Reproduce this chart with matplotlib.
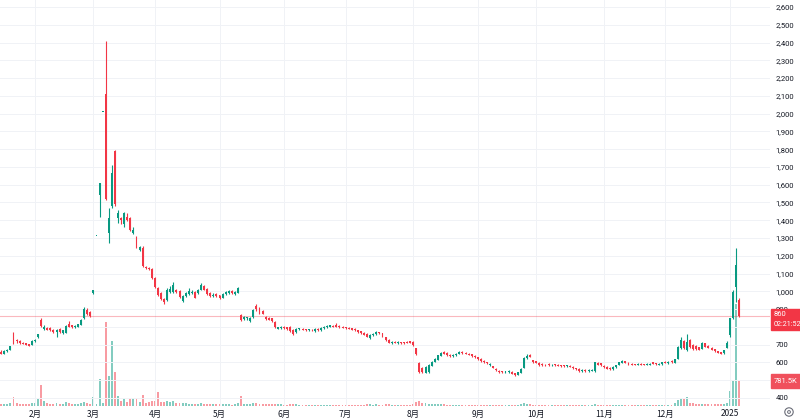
import numpy as np
import pandas as pd
import matplotlib
matplotlib.use('Agg')
import matplotlib.pyplot as plt
from matplotlib.patches import Rectangle, Circle
from matplotlib.transforms import IdentityTransform

# ---------------- data (daily OHLC, volume in thousands) ----------------
opens = [
660,650,662,670,732,728,720,712,708,702,
700,718,745,838,788,795,792,785,770,790,
766,768,818,808,800,800,812,850,893,885,
990,1310,1540,2010,2110,1330,1480,1790,1415,1410,
1378,1420,1415,1330,1300,1230,1245,1135,1130,1125,
1075,1020,990,955,950,995,998,1010,1000,945,
975,985,990,995,990,1008,1030,1012,990,975,
985,978,965,985,990,1000,985,992,867,845,
848,835,855,918,905,890,858,852,848,830,
790,792,800,798,800,785,772,786,790,786,
783,785,776,790,780,793,798,802,806,812,
804,800,797,795,792,788,780,775,768,760,
740,752,760,770,765,742,726,708,716,708,
714,712,716,718,715,680,597,570,542,545,
582,605,615,638,658,652,642,636,642,650,
658,655,650,645,636,628,622,610,600,585,
578,565,553,550,545,546,546,540,530,541,
569,625,642,612,607,597,592,588,590,583,
590,586,585,583,578,580,575,568,565,550,
558,550,552,550,595,595,582,575,570,563,
572,585,598,606,598,592,590,586,592,590,
586,588,600,595,588,590,604,595,608,597,
622,681,721,670,726,700,692,685,676,709,
695,684,675,662,657,652,682,755,850,1024,
951]
highs = [
668,668,675,695,771,732,724,716,712,706,
724,732,762,852,810,802,798,790,788,795,
784,808,833,812,810,818,842,910,905,890,
1010,1310,1610,2010,2410,1470,1710,1795,1460,1420,
1445,1440,1420,1360,1310,1255,1255,1142,1135,1130,
1080,1025,995,960,1020,1030,1055,1015,1005,980,
995,1020,1005,1000,1015,1045,1035,1018,995,988,
990,982,990,1000,1005,1005,1002,1025,875,860,
858,855,900,930,910,895,862,856,852,835,
802,805,806,802,805,788,795,795,794,790,
790,789,794,794,798,804,808,812,810,822,
808,804,800,798,796,792,784,778,772,763,
758,766,778,774,768,745,730,720,719,718,
717,715,720,722,718,684,602,575,580,590,
606,626,644,656,665,656,646,648,654,662,
662,658,654,648,640,632,626,614,604,594,
582,568,557,553,554,556,550,543,548,566,
628,645,648,615,610,600,595,592,594,592,
593,589,588,586,586,583,578,571,568,561,
561,561,561,604,602,598,586,578,573,578,
588,603,612,609,601,595,593,594,595,593,
596,596,604,598,596,602,608,606,612,622,
692,743,728,760,730,704,696,688,714,712,
698,687,678,665,660,671,722,852,1005,1244,
962]
lows = [
645,648,660,668,705,712,706,702,698,690,
698,715,740,800,780,782,776,768,745,768,
762,765,798,796,796,798,808,845,868,855,
985,1310,1420,2010,1515,1270,1470,1480,1385,1380,
1362,1395,1340,1320,1245,1225,1135,1125,1120,1070,
1020,975,950,930,945,990,990,990,965,938,
970,980,985,960,985,1005,1005,980,970,970,
968,955,960,980,985,985,980,988,835,840,
840,825,850,892,875,870,838,836,830,792,
786,790,788,784,770,755,768,782,780,778,
778,776,772,778,776,790,795,800,797,800,
795,792,790,787,782,777,768,762,752,742,
732,750,757,762,742,722,708,705,707,705,
705,705,709,708,695,640,542,538,538,542,
578,600,612,634,646,636,630,632,638,647,
648,646,640,632,624,614,604,598,590,582,
566,552,543,542,542,543,533,526,527,538,
566,620,628,596,594,582,580,580,582,580,
580,579,577,575,575,572,565,559,548,547,
547,547,549,546,583,582,568,562,560,560,
570,583,596,595,586,584,584,584,585,584,
584,586,590,587,586,588,594,593,598,595,
618,676,676,662,684,672,672,668,673,685,
679,669,660,652,646,649,679,745,845,940,
855]
closes = [
650,665,672,690,710,718,710,705,700,695,
720,728,758,805,800,785,780,772,783,772,
780,805,800,800,805,815,838,898,873,860,
1010,1310,1610,2010,1520,1410,1665,1490,1440,1400,
1440,1400,1345,1345,1250,1248,1140,1130,1125,1075,
1025,980,955,940,1005,1012,1035,995,970,975,
990,1000,998,965,1010,1035,1010,985,975,982,
972,962,985,995,1000,990,998,1020,840,857,
855,850,895,898,880,875,842,840,835,797,
798,800,792,788,775,760,788,790,785,782,
786,780,790,782,795,800,805,808,800,802,
798,795,793,790,785,780,772,765,755,745,
755,762,772,765,745,726,712,716,710,714,
708,708,712,712,698,645,548,545,575,585,
602,622,640,652,650,640,635,643,650,658,
652,650,643,636,628,618,608,602,595,590,
570,555,547,546,550,552,537,530,545,563,
625,637,632,600,598,585,583,583,585,588,
583,582,580,578,582,575,568,562,552,558,
550,558,558,600,586,585,572,565,563,575,
585,600,606,598,590,588,587,591,588,587,
593,593,593,590,592,600,597,603,600,618,
687,726,681,717,687,675,676,672,711,688,
682,672,663,655,650,668,711,850,998,1148,
860]
volumes_k = [
70,60,50,90,270,80,60,50,60,70,
90,100,210,630,150,90,70,60,80,60,
50,110,90,50,50,60,90,120,90,70,
270,60,810,80,2520,900,1950,1020,300,160,
210,130,210,230,250,130,330,100,110,150,
140,420,120,110,150,130,160,90,90,100,
80,70,60,70,60,90,70,60,60,50,
50,50,60,50,50,40,60,80,300,70,
60,70,90,80,60,50,60,50,50,70,
50,50,40,40,60,60,50,40,40,30,
30,30,40,30,40,40,40,40,30,40,
30,30,30,30,30,30,40,40,40,50,
50,40,50,40,40,50,50,40,30,30,
30,30,30,40,60,110,140,90,80,70,
60,60,60,50,50,40,40,40,40,40,
30,30,30,30,30,40,40,30,30,30,
30,30,30,30,30,30,40,40,40,50,
90,70,50,40,40,30,30,30,30,30,
30,30,30,30,30,30,30,30,40,30,
30,30,30,70,40,40,40,30,30,30,
30,40,40,30,30,30,30,30,30,30,
30,30,30,30,30,40,40,40,40,80,
190,230,200,280,100,80,60,60,70,60,
50,50,50,50,50,60,100,460,760,3060,
781.5]

jp_holidays = ['2024-02-12', '2024-02-23', '2024-03-20', '2024-04-29', '2024-05-03',
               '2024-05-06', '2024-07-15', '2024-08-12', '2024-09-16', '2024-09-23',
               '2024-10-14', '2024-11-04', '2024-12-31', '2025-01-01', '2025-01-02',
               '2025-01-03']
month_labels = ['2月', '3月', '4月', '5月', '6月', '7月', '8月', '9月', '10月', '11月', '12月', '2025']
price_ticks = list(range(400, 2700, 100))
hidden_tick_labels = [500, 800]   # covered by the last-value badges
last_price_text = '860'
countdown_text = '02:21:52'
last_volume_text = '781.5K'

# ---------------- build ----------------
dates = pd.bdate_range('2024-01-17', '2025-01-09', freq='C', holidays=jp_holidays)
n = len(closes)
dates = dates[:n]
x = np.arange(n)
months = np.array([d.month for d in dates])
month_pos = [i for i in range(1, n) if months[i] != months[i - 1]]

o = np.array(opens, float); h = np.array(highs, float)
l = np.array(lows, float); c = np.array(closes, float)
v = np.array(volumes_k, float) * 1000

UP = '#089981'
DN = '#f23645'
up = c >= o
col = np.where(up, UP, DN)
vcol = np.where(up, '#83ccc0', '#f89ba2')

W, H = 800, 420
fig = plt.figure(figsize=(W / 100, H / 100), dpi=100)
fig.patch.set_facecolor('white')

ax_l, ax_w = 0.0, 770 / W
ax_b, ax_h = (H - 406) / H, 406 / H
axv = fig.add_axes([ax_l, ax_b, ax_w, ax_h])
ax = fig.add_axes([ax_l, ax_b, ax_w, ax_h], sharex=axv)
ax.patch.set_visible(False)

# x scale: bar 11 at px 35, 3.075 px per bar
xl = 11 - 35 / 3.075
xr = 11 + (770 - 35) / 3.075
axv.set_xlim(xl, xr)

# volume
axv.bar(x, v, width=0.62, color=vcol, linewidth=0)
axv.set_ylim(0, 30000 * 406)
axv.axis('off')

# grid
ax.set_yticks(price_ticks)
ax.set_xticks(month_pos)
ax.grid(True, color='#f0f2f6', linewidth=0.7)
ax.set_axisbelow(True)

# candles
ax.vlines(x, l, h, colors=col, linewidth=0.8, zorder=3)
body_bot = np.minimum(o, c)
body_h = np.maximum(np.abs(c - o), 5)
ax.bar(x, body_h, bottom=body_bot, width=0.62, color=col, linewidth=0, zorder=4)

# y scale: 2600 at px 7, 5.627 price per px
y_top = 2600 + 7 * 5.627
y_bot = 2600 - (406 - 7) * 5.627
ax.set_ylim(y_bot, y_top)

# last price line
ax.axhline(c[-1], color=DN, linewidth=0.8, alpha=0.35, zorder=2)

for s in ax.spines.values():
    s.set_visible(False)
ax.yaxis.tick_right()
ax.set_yticklabels(['' if t in hidden_tick_labels else f'{t:,}' for t in price_ticks])
ax.tick_params(axis='y', length=0, pad=4, labelsize=5.5, labelcolor='#131722')
ax.set_xticklabels(month_labels)
ax.tick_params(axis='x', length=0, pad=2.5, labelsize=6, labelcolor='#131722')
for t in ax.get_xticklabels():
    t.set_fontfamily(['Noto Sans CJK JP', 'DejaVu Sans'])
for t in ax.get_yticklabels():
    t.set_fontfamily(['Roboto', 'DejaVu Sans'])


def fx(px):
    return px / W


def fy(py):
    return 1 - py / H


fig.add_artist(Rectangle((fx(771), fy(330)), 29 / W, 21 / H, color=DN,
                         transform=fig.transFigure, zorder=5))
fig.text(fx(774), fy(314.5), last_price_text, color='white', fontsize=5.5,
         va='center', ha='left', family=['Roboto', 'DejaVu Sans'], zorder=6)
fig.text(fx(774), fy(324.5), countdown_text, color='white', fontsize=5.2,
         va='center', ha='left', family=['Roboto', 'DejaVu Sans'], zorder=6)

fig.add_artist(Rectangle((fx(771), fy(388)), 29 / W, 14 / H, color='#f0505c',
                         transform=fig.transFigure, zorder=5))
fig.text(fx(774), fy(381), last_volume_text, color='white', fontsize=5.5,
         va='center', ha='left', family=['Roboto', 'DejaVu Sans'], zorder=6)

# settings icon bottom-right
fig.add_artist(Circle((789, H - 412), 4.2, transform=IdentityTransform(), fill=False,
                      edgecolor='#6a6d78', linewidth=0.8, zorder=6))
fig.add_artist(Circle((789, H - 412), 1.4, transform=IdentityTransform(), fill=False,
                      edgecolor='#6a6d78', linewidth=0.7, zorder=6))

fig.savefig('out.png', dpi=100, facecolor='white')
